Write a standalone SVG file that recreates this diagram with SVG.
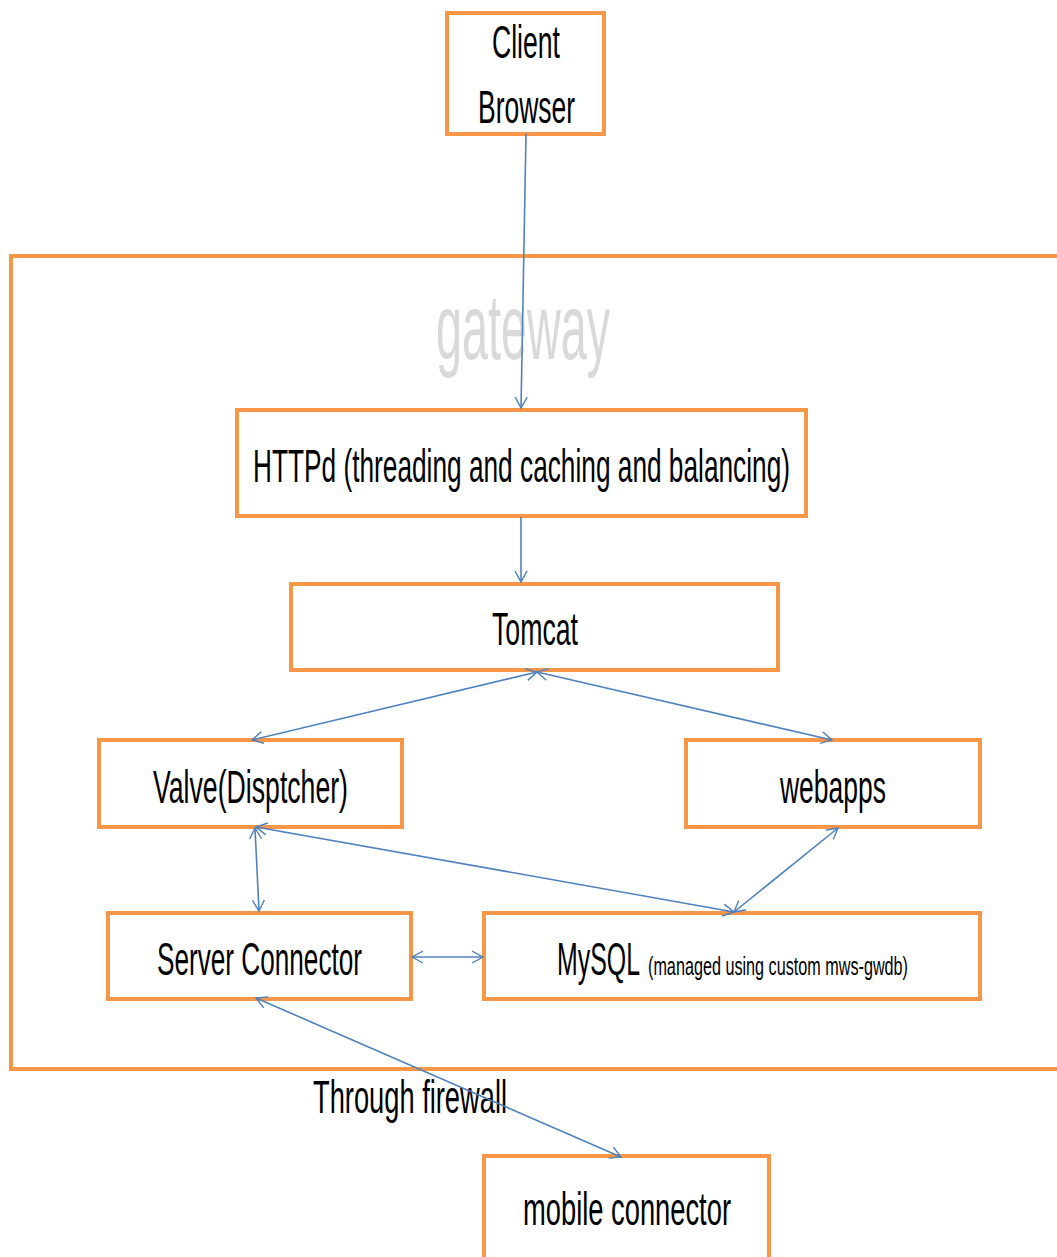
<svg xmlns="http://www.w3.org/2000/svg" width="1057" height="1257" viewBox="0 0 1057 1257">
<style>
.box{fill:#ffffff;stroke:#F79646;stroke-width:4}
.t{font-family:"Liberation Sans",Arial,sans-serif;font-size:46px;fill:#000}
.s{font-family:"Liberation Sans",Arial,sans-serif;font-size:25px;fill:#000}
.g{font-family:"Liberation Sans",Arial,sans-serif;font-size:92px;fill:#D9D9D9}
.c{stroke:#4F81BD;stroke-width:1.6;fill:none}
</style>
<defs>
<marker id="ah" markerUnits="userSpaceOnUse" markerWidth="14" markerHeight="14" refX="11" refY="6" orient="auto-start-reverse" viewBox="0 0 14 12">
<path d="M0,0 L11,6 L0,12" fill="none" stroke="#4F81BD" stroke-width="1.4"/>
</marker>
</defs>
<g id="gateway">
<rect class="box" x="11" y="256" width="1060" height="813"/>
<text class="g" x="436" y="359" textLength="174" lengthAdjust="spacingAndGlyphs">gateway</text>
</g>
<g id="client">
<rect class="box" x="447" y="13" width="157" height="121"/>
<text class="t" x="492" y="58" textLength="68" lengthAdjust="spacingAndGlyphs">Client</text>
<text class="t" x="478" y="123" textLength="97" lengthAdjust="spacingAndGlyphs">Browser</text>
</g>
<g id="httpd">
<rect class="box" x="237" y="410" width="569" height="106"/>
<text class="t" x="253" y="482" textLength="537" lengthAdjust="spacingAndGlyphs">HTTPd (threading and caching and balancing)</text>
</g>
<g id="tomcat">
<rect class="box" x="291" y="584" width="487" height="86"/>
<text class="t" x="492" y="645" textLength="86" lengthAdjust="spacingAndGlyphs">Tomcat</text>
</g>
<g id="valve">
<rect class="box" x="99" y="740" width="303" height="87"/>
<text class="t" x="153" y="803" textLength="195" lengthAdjust="spacingAndGlyphs">Valve(Disptcher)</text>
</g>
<g id="webapps">
<rect class="box" x="686" y="740" width="294" height="87"/>
<text class="t" x="780" y="803" textLength="106" lengthAdjust="spacingAndGlyphs">webapps</text>
</g>
<g id="server">
<rect class="box" x="108" y="913" width="303" height="86"/>
<text class="t" x="157" y="975" textLength="205" lengthAdjust="spacingAndGlyphs">Server Connector</text>
</g>
<g id="mysql">
<rect class="box" x="484" y="913" width="496" height="86"/>
<text class="t" x="557" y="975" textLength="83" lengthAdjust="spacingAndGlyphs">MySQL</text>
<text class="s" x="648" y="975" textLength="260" lengthAdjust="spacingAndGlyphs">(managed using custom mws-gwdb)</text>
</g>
<g id="mobile">
<rect class="box" x="484" y="1156" width="285" height="120"/>
<text class="t" x="523" y="1225" textLength="208" lengthAdjust="spacingAndGlyphs">mobile connector</text>
</g>
<g id="firewall-label">
<text class="t" x="313" y="1113" textLength="194" lengthAdjust="spacingAndGlyphs">Through firewall</text>
</g>
<g id="connectors">
<line class="c" x1="526" y1="134" x2="521" y2="408" stroke-width="1.2" marker-end="url(#ah)"/>
<line class="c" x1="521" y1="517" x2="521" y2="582" stroke-width="1.2" marker-end="url(#ah)"/>
<line class="c" x1="537" y1="672" x2="252" y2="740" marker-start="url(#ah)" marker-end="url(#ah)"/>
<line class="c" x1="537" y1="672" x2="832" y2="740" marker-start="url(#ah)" marker-end="url(#ah)"/>
<line class="c" x1="255" y1="828" x2="259" y2="911" stroke-width="1.2" marker-start="url(#ah)" marker-end="url(#ah)"/>
<line class="c" x1="256" y1="827" x2="734" y2="912" marker-start="url(#ah)" marker-end="url(#ah)"/>
<line class="c" x1="838" y1="828" x2="734" y2="912" marker-start="url(#ah)" marker-end="url(#ah)"/>
<line class="c" x1="412" y1="957" x2="483" y2="957" marker-start="url(#ah)" marker-end="url(#ah)"/>
<line class="c" x1="256" y1="998" x2="621" y2="1157" stroke-width="1.3" marker-start="url(#ah)" marker-end="url(#ah)"/>
</g>
</svg>
